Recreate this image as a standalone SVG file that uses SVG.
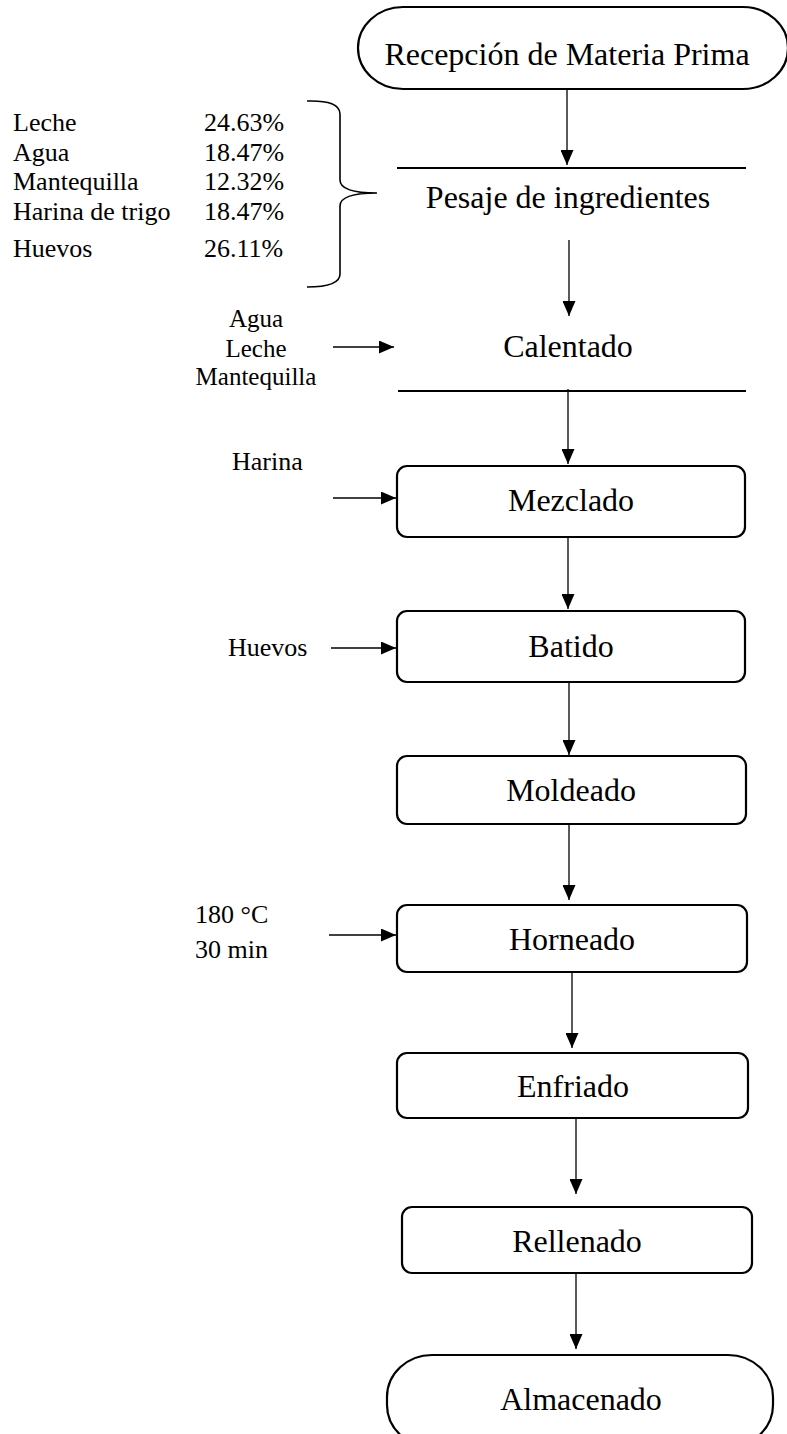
<svg xmlns="http://www.w3.org/2000/svg" width="787" height="1434" viewBox="0 0 787 1434">
<defs>
<marker id="ah" markerWidth="15" markerHeight="13" refX="15" refY="6.5" orient="auto" markerUnits="userSpaceOnUse">
<path d="M0,0 L15,6.5 L0,13 Z" fill="#000"/>
</marker>
<style>
.t{font-family:"Liberation Serif","Times New Roman",serif;fill:#000}
.m{font-size:32px;text-anchor:middle}
.s{font-size:26px}
.sc{font-size:25px;text-anchor:middle}
.box{fill:#fff;stroke:#000;stroke-width:2.2}
.ln{stroke:#000;stroke-width:2.2}
.c{stroke:#000;stroke-width:1.3;fill:none;marker-end:url(#ah)}
</style>
</defs>
<rect width="787" height="1434" fill="#fff"/>
<g id="n_recepcion">
<rect class="box" x="358" y="7" width="430" height="82" rx="45" ry="41"/>
<text class="t m" x="567" y="65">Recepción de Materia Prima</text>
</g>
<g id="n_pesaje">
<line class="ln" x1="397" y1="168" x2="746" y2="168"/>
<text class="t m" x="568" y="208">Pesaje de ingredientes</text>
</g>
<g id="n_ingredientes">
<text class="t s" x="13" y="131">Leche</text><text class="t s" x="204" y="131">24.63%</text>
<text class="t s" x="13" y="161">Agua</text><text class="t s" x="204" y="161">18.47%</text>
<text class="t s" x="13" y="190">Mantequilla</text><text class="t s" x="204" y="190">12.32%</text>
<text class="t s" x="13" y="220">Harina de trigo</text><text class="t s" x="204" y="220">18.47%</text>
<text class="t s" x="13" y="257">Huevos</text><text class="t s" x="204" y="257">26.11%</text>
<path d="M307,101 Q340,100 340,114 L340,180 Q340,193 377,193 Q340,193 340,206 L340,274 Q340,287 307,287" fill="none" stroke="#000" stroke-width="1.6"/>
</g>
<g id="n_calentado">
<text class="t m" x="568" y="357">Calentado</text>
<line class="ln" x1="398" y1="391" x2="746" y2="391"/>
</g>
<g id="n_calentado_in">
<text class="t sc" x="256" y="327">Agua</text>
<text class="t sc" x="256" y="357">Leche</text>
<text class="t sc" x="256" y="385">Mantequilla</text>
</g>
<g id="n_mezclado">
<rect class="box" x="397" y="466" width="348" height="71" rx="10"/>
<text class="t m" x="571" y="511">Mezclado</text>
</g>
<g id="n_harina"><text class="t s" x="232" y="470">Harina</text></g>
<g id="n_batido">
<rect class="box" x="397" y="611" width="348" height="71" rx="10"/>
<text class="t m" x="571" y="657">Batido</text>
</g>
<g id="n_huevos"><text class="t s" x="228" y="656">Huevos</text></g>
<g id="n_moldeado">
<rect class="box" x="397" y="756" width="349" height="68" rx="10"/>
<text class="t m" x="571" y="801">Moldeado</text>
</g>
<g id="n_horneado">
<rect class="box" x="397" y="905" width="350" height="67" rx="10"/>
<text class="t m" x="572" y="950">Horneado</text>
</g>
<g id="n_cond">
<text class="t s" x="195" y="923">180 °C</text>
<text class="t s" x="195" y="958">30 min</text>
</g>
<g id="n_enfriado">
<rect class="box" x="397" y="1053" width="351" height="65" rx="10"/>
<text class="t m" x="573" y="1097">Enfriado</text>
</g>
<g id="n_rellenado">
<rect class="box" x="402" y="1207" width="350" height="66" rx="10"/>
<text class="t m" x="577" y="1252">Rellenado</text>
</g>
<g id="n_almacenado">
<rect class="box" x="387" y="1355" width="386" height="92" rx="45" ry="42"/>
<text class="t m" x="581" y="1410">Almacenado</text>
</g>
<g id="connectors">
<line class="c" x1="567" y1="89" x2="567" y2="165"/>
<line class="c" x1="569" y1="240" x2="569" y2="316"/>
<line class="c" x1="333" y1="347" x2="394" y2="347"/>
<line class="c" x1="568" y1="389" x2="568" y2="464"/>
<line class="c" x1="333" y1="498" x2="396" y2="498"/>
<line class="c" x1="568" y1="537" x2="568" y2="609"/>
<line class="c" x1="331" y1="648" x2="396" y2="648"/>
<line class="c" x1="569" y1="682" x2="569" y2="755"/>
<line class="c" x1="569" y1="824" x2="569" y2="900"/>
<line class="c" x1="329" y1="935" x2="396" y2="935"/>
<line class="c" x1="572" y1="972" x2="572" y2="1048"/>
<line class="c" x1="576" y1="1118" x2="576" y2="1194"/>
<line class="c" x1="576" y1="1274" x2="576" y2="1349"/>
</g>
</svg>
